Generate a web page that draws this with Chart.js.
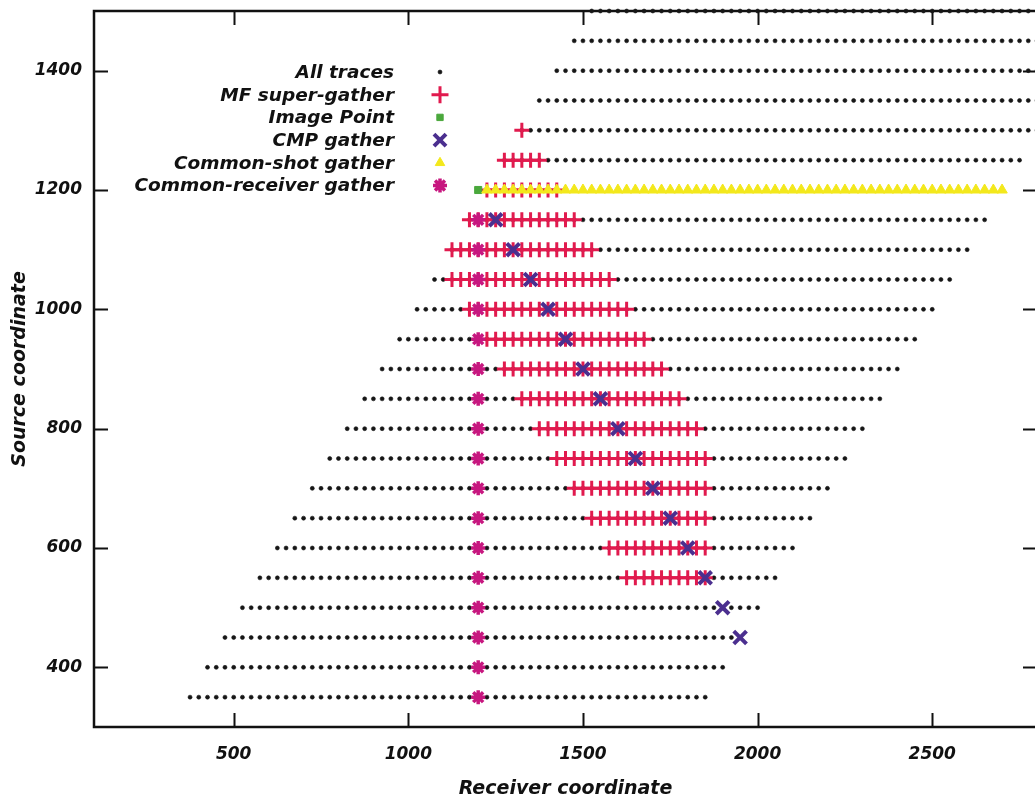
<!DOCTYPE html>
<html>
<head>
<meta charset="utf-8">
<title>Source-receiver survey map</title>
<script src="https://cdn.jsdelivr.net/npm/chart.js@4/dist/chart.umd.min.js"></script>
<style>
  html, body { margin: 0; padding: 0; background: #fff; overflow: hidden; }
</style>
</head>
<body>
<canvas id="survey" width="1045" height="800"></canvas>
<script>
// all traces: one row per source, receivers every 25 between first and last
const sources    = [350, 400, 450, 500, 550, 600, 650, 700, 750, 800, 850, 900, 950, 1000, 1050, 1100, 1150, 1200, 1250, 1300, 1350, 1400, 1450, 1500];
const traceFirst = [375, 425, 475, 525, 575, 625, 675, 725, 775, 825, 875, 925, 975, 1025, 1075, 1125, 1175, 1225, 1275, 1325, 1375, 1425, 1475, 1525];
const traceLast  = [1850, 1900, 1950, 2000, 2050, 2100, 2150, 2200, 2250, 2300, 2350, 2400, 2450, 2500, 2550, 2600, 2650, 2700, 2750, 2800, 2850, 2900, 2950, 3000];
const receiverStep = 25;

// MF super-gather: receiver span on each source row
const mfSources = [550, 600, 650, 700, 750, 800, 850, 900, 950, 1000, 1050, 1100, 1150, 1200, 1250, 1300];
const mfFirst   = [1625, 1575, 1525, 1475, 1425, 1375, 1325, 1275, 1225, 1175, 1125, 1125, 1175, 1225, 1275, 1325];
const mfLast    = [1850, 1850, 1850, 1850, 1850, 1825, 1775, 1725, 1675, 1625, 1575, 1525, 1475, 1425, 1375, 1325];

// image point
const imageReceiver = [1200];
const imageSource = [1200];

// CMP gather
const cmpSources   = [450, 500, 550, 600, 650, 700, 750, 800, 850, 900, 950, 1000, 1050, 1100, 1150];
const cmpReceivers = [1950, 1900, 1850, 1800, 1750, 1700, 1650, 1600, 1550, 1500, 1450, 1400, 1350, 1300, 1250];

// common-shot gather (source 1200)
const shotSource = 1200;
const shotFirst = 1225;
const shotLast = 2700;

// common-receiver gather (receiver 1200)
const crReceiver = 1200;
const crSources = [350, 400, 450, 500, 550, 600, 650, 700, 750, 800, 850, 900, 950, 1000, 1050, 1100, 1150];

const xTicks = [500, 1000, 1500, 2000, 2500];
const yTicks = [400, 600, 800, 1000, 1200, 1400];

function rowPoints(s, first, last) {
	const pts = [];
	for (let r = first; r <= last; r += receiverStep) pts.push({ x: r, y: s });
	return pts;
}

const allTraces = sources.flatMap((s, i) => rowPoints(s, traceFirst[i], traceLast[i]));
const mfPoints = mfSources.flatMap((s, i) => rowPoints(s, mfFirst[i], mfLast[i]));
const imagePoints = imageReceiver.map((r, i) => ({ x: r, y: imageSource[i] }));
const cmpPoints = cmpSources.map((s, i) => ({ x: cmpReceivers[i], y: s }));
const shotPoints = rowPoints(shotSource, shotFirst, shotLast);
const crPoints = crSources.map(s => ({ x: crReceiver, y: s }));

const FONT = "'DejaVu Sans', sans-serif";

function series(label, data, color, style, radius, border, order, legendRadius) {
	return {
		label: label,
		data: data,
		pointStyle: style,
		pointRadius: radius,
		pointHoverRadius: radius,
		pointBorderWidth: border,
		pointBackgroundColor: color,
		pointBorderColor: color,
		showLine: false,
		order: order,
		clip: 5,
		legendRadius: legendRadius
	};
}

// frame with inward ticks on all four sides
const framePlugin = {
	id: "frame",
	beforeDatasetsDraw(chart) {
		const { ctx, chartArea: a, scales } = chart;
		ctx.save();
		ctx.strokeStyle = "#111";
		ctx.lineWidth = 2;
		const len = 14;
		ctx.beginPath();
		xTicks.forEach(v => {
			const px = Math.round(scales.x.getPixelForValue(v)) + 0.5;
			ctx.moveTo(px, a.bottom); ctx.lineTo(px, a.bottom - len);
			ctx.moveTo(px, a.top); ctx.lineTo(px, a.top + len);
		});
		yTicks.forEach(v => {
			const py = Math.round(scales.y.getPixelForValue(v)) + 0.5;
			ctx.moveTo(a.left, py); ctx.lineTo(a.left + len, py);
			ctx.moveTo(a.right, py); ctx.lineTo(a.right - len, py);
		});
		ctx.stroke();
		ctx.lineWidth = 2.5;
		ctx.strokeRect(a.left, a.top, a.right - a.left, a.bottom - a.top);
		ctx.restore();
	}
};

// key in the upper left, text right-aligned with the symbol after it
const keyPlugin = {
	id: "key",
	afterDatasetsDraw(chart) {
		const { ctx, chartArea: a } = chart;
		ctx.save();
		ctx.font = "italic bold 18.5px " + FONT;
		ctx.textAlign = "right";
		ctx.textBaseline = "middle";
		chart.data.datasets.forEach((ds, i) => {
			const y = a.top + 61 + i * 22.7;
			ctx.fillStyle = "#111";
			ctx.fillText(ds.label, a.left + 300, y + 1);
			ctx.fillStyle = ds.pointBackgroundColor;
			ctx.strokeStyle = ds.pointBorderColor;
			ctx.lineWidth = ds.pointBorderWidth;
			Chart.helpers.drawPoint(ctx, {
				pointStyle: ds.pointStyle,
				radius: ds.legendRadius,
				rotation: 0,
				borderWidth: ds.pointBorderWidth
			}, a.left + 346, y);
		});
		ctx.restore();
	}
};

new Chart(document.getElementById("survey"), {
	type: "scatter",
	data: {
		datasets: [
			series("All traces", allTraces, "#161616", "circle", 2, 0.6, 6, 2),
			series("MF super-gather", mfPoints, "#e11a4e", "cross", 7.5, 3, 5, 8.5),
			series("Image Point", imagePoints, "#4aa83c", "rect", 5, 1, 4, 4.5),
			series("CMP gather", cmpPoints, "#4b2f8f", "crossRot", 9, 4, 3, 8.5),
			series("Common-shot gather", shotPoints, "#f3e81c", "triangle", 6, 1, 2, 5.5),
			series("Common-receiver gather", crPoints, "#c7177f", "star", 7, 3.5, 1, 7)
		]
	},
	options: {
		responsive: false,
		animation: false,
		events: [],
		layout: { autoPadding: false, padding: { top: 11, right: 8, left: 0, bottom: 0 } },
		scales: {
			x: {
				type: "linear",
				min: 100,
				max: 2800,
				afterBuildTicks: s => { s.ticks = xTicks.map(v => ({ value: v })); },
				afterFit: s => { s.height = 73; s.paddingLeft = 0; s.paddingRight = 0; },
				grid: { display: false },
				border: { display: false },
				ticks: {
					color: "#111",
					padding: 9,
					maxRotation: 0,
					callback: v => String(v),
					font: { family: FONT, size: 17, style: "italic", weight: "bold" }
				},
				title: {
					display: true,
					text: "Receiver coordinate",
					color: "#111",
					padding: { top: 0, bottom: 0 },
					font: { family: FONT, size: 19, style: "italic", weight: "bold" }
				}
			},
			y: {
				type: "linear",
				min: 300,
				max: 1500,
				afterBuildTicks: s => { s.ticks = yTicks.map(v => ({ value: v })); },
				afterFit: s => { s.width = 94; s.paddingTop = 0; s.paddingBottom = 0; },
				grid: { display: false },
				border: { display: false },
				ticks: {
					color: "#111",
					padding: 4,
					callback: v => String(v),
					font: { family: FONT, size: 17, style: "italic", weight: "bold" }
				},
				title: {
					display: true,
					text: "Source coordinate",
					color: "#111",
					padding: { top: 9, bottom: 0 },
					font: { family: FONT, size: 19, style: "italic", weight: "bold" }
				}
			}
		},
		plugins: {
			legend: { display: false },
			tooltip: { enabled: false }
		}
	},
	plugins: [framePlugin, keyPlugin]
});
</script>
</body>
</html>
